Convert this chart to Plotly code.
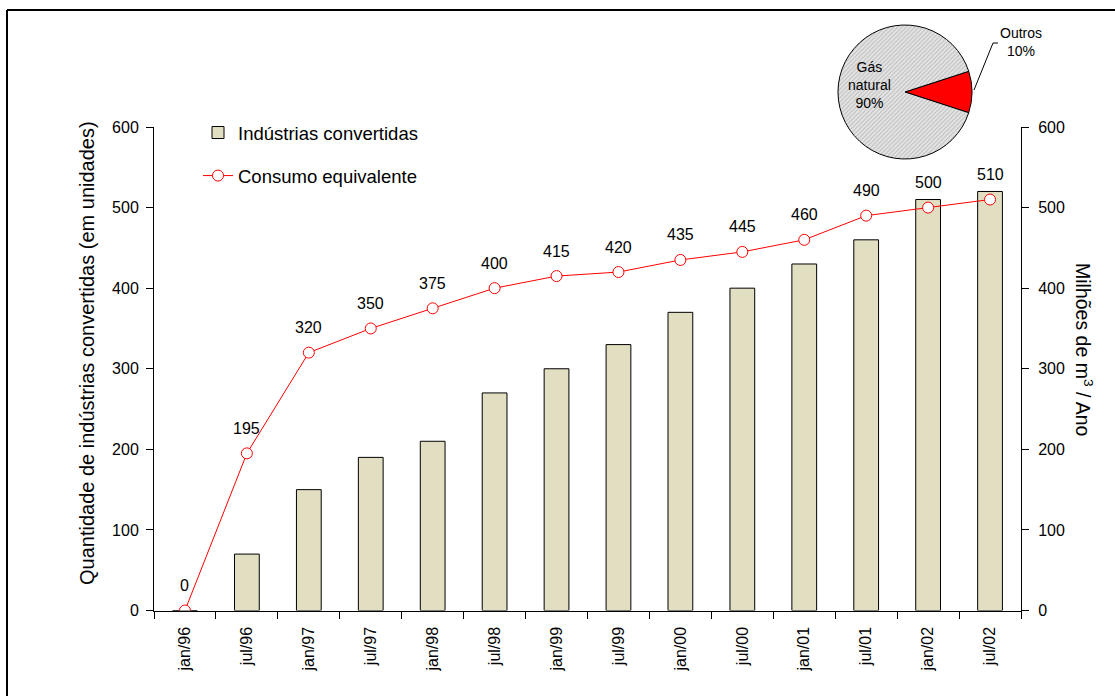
import plotly.graph_objects as go

# Periods (semester) on the category axis
periods = ["jan/96", "jul/96", "jan/97", "jul/97", "jan/98", "jul/98", "jan/99",
           "jul/99", "jan/00", "jul/00", "jan/01", "jul/01", "jan/02", "jul/02"]

# Number of converted industries (left axis)
industrias = [0, 70, 150, 190, 210, 270, 300, 330, 370, 400, 430, 460, 510, 520]

# Equivalent consumption, million m3 / year (right axis)
consumo = [0, 195, 320, 350, 375, 400, 415, 420, 435, 445, 460, 490, 500, 510]

# Energy mix pie
pie_labels = ["Outros", "Gás natural"]
pie_values = [10, 90]

FONT = "Arial, Liberation Sans, sans-serif"
W, H = 1115, 696


def px(x):
    return x / W


def py(y):
    return 1 - y / H


fig = go.Figure()

fig.add_trace(go.Bar(
    x=periods, y=industrias, name="Indústrias convertidas",
    marker=dict(color="#E1DEC1", line=dict(color="#000000", width=1)),
    width=0.4, yaxis="y", legendgroup="a",
))

fig.add_trace(go.Scatter(
    x=periods, y=consumo, name="Consumo equivalente", mode="lines+markers",
    line=dict(color="#FF0000", width=1),
    marker=dict(symbol="circle", size=11, color="#FFFFFF",
                line=dict(color="#FF0000", width=1)),
    yaxis="y2", legendgroup="b",
))

fig.add_trace(go.Pie(
    labels=pie_labels, values=pie_values, sort=False, direction="clockwise",
    rotation=72, textinfo="none", showlegend=False, hoverinfo="label+percent",
    marker=dict(colors=["#FF0000", "#E4E4E4"],
                line=dict(color="#000000", width=1),
                pattern=dict(shape=["", "/"], fgcolor="#8E8E8E",
                             size=3, solidity=0.3, fillmode="overlay")),
    domain=dict(x=[px(838), px(972)], y=[py(159), py(25)]),
))

annotations = []
# value labels above the consumption markers
for p, v in zip(periods, consumo):
    annotations.append(dict(x=p, y=v, xref="x", yref="y2", text=str(v),
                            showarrow=False, yshift=25,
                            font=dict(family=FONT, size=16, color="#000000")))

# axis titles
annotations.append(dict(x=px(87), y=py(353), xref="paper", yref="paper",
                        xanchor="center", yanchor="middle",
                        text="Quantidade de indústrias convertidas (em unidades)",
                        textangle=-90, showarrow=False,
                        font=dict(family=FONT, size=20, color="#000000")))
annotations.append(dict(x=px(1084), y=py(350), xref="paper", yref="paper",
                        xanchor="center", yanchor="middle",
                        text="Milhões de m<sup>3</sup> / Ano",
                        textangle=90, showarrow=False,
                        font=dict(family=FONT, size=19.5, color="#000000")))

# pie labels
annotations.append(dict(x=px(869), y=py(85), xref="paper", yref="paper",
                        xanchor="center", yanchor="middle",
                        text="Gás<br>natural<br>90%", showarrow=False,
                        font=dict(family=FONT, size=14, color="#000000")))
annotations.append(dict(x=px(1021), y=py(42), xref="paper", yref="paper",
                        xanchor="center", yanchor="middle",
                        text="Outros<br>10%", showarrow=False,
                        font=dict(family=FONT, size=14, color="#000000")))

shapes = [
    # leader line for the "Outros" slice
    dict(type="path", xref="paper", yref="paper",
         path=f"M {px(974)},{py(90)} L {px(993)},{py(43)} L {px(998)},{py(43)}",
         line=dict(color="#000000", width=1)),
    # frame around the chart (top and left edges)
    dict(type="line", xref="paper", yref="paper",
         x0=px(7), x1=px(1115), y0=py(10), y1=py(10),
         line=dict(color="#000000", width=2)),
    dict(type="line", xref="paper", yref="paper",
         x0=px(7), x1=px(7), y0=py(10), y1=py(696),
         line=dict(color="#000000", width=2)),
]

axis_font = dict(family=FONT, size=16, color="#000000")

fig.update_layout(
    width=W, height=H,
    margin=dict(l=0, r=0, t=0, b=0),
    paper_bgcolor="#FFFFFF", plot_bgcolor="#FFFFFF",
    font=dict(family=FONT, color="#000000"),
    xaxis=dict(
        domain=[px(154), px(1021)], type="category", range=[-0.5, 13.5],
        showline=True, linecolor="#000000", linewidth=1,
        ticks="outside", ticklen=7, tickcolor="#000000",
        tickson="boundaries", tickangle=-90, tickfont=axis_font,
        ticklabelstandoff=9,
        showgrid=False, zeroline=False, automargin=False,
    ),
    yaxis=dict(
        domain=[py(610.5), py(127)], range=[0, 600], dtick=100,
        showline=True, linecolor="#000000", linewidth=1,
        ticks="outside", ticklen=7, tickcolor="#000000",
        ticklabelstandoff=4, tickfont=axis_font,
        showgrid=False, zeroline=False, automargin=False,
    ),
    yaxis2=dict(
        overlaying="y", side="right", anchor="x", range=[0, 600], dtick=100,
        showline=True, linecolor="#000000", linewidth=1,
        ticks="outside", ticklen=7, tickcolor="#000000",
        ticklabelstandoff=6, tickfont=axis_font,
        showgrid=False, zeroline=False, automargin=False,
    ),
    legend=dict(
        x=px(198), y=py(114), xanchor="left", yanchor="top",
        traceorder="grouped", tracegroupgap=16,
        font=dict(family=FONT, size=18.5, color="#000000"),
        bgcolor="rgba(0,0,0,0)",
    ),
    annotations=annotations,
    shapes=shapes,
    showlegend=True,
)

fig.write_html("out.html")
